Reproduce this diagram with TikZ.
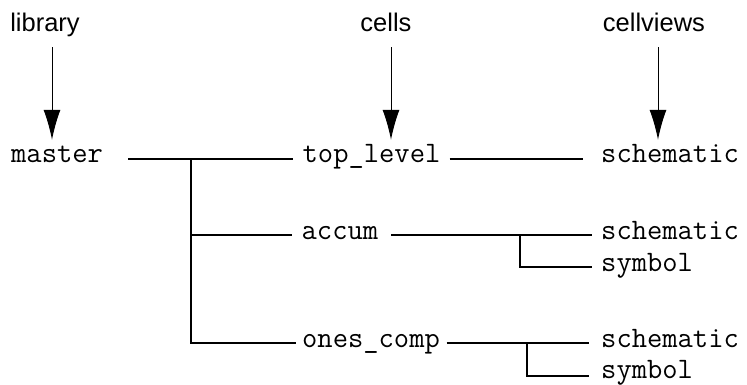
\documentclass[tikz,border=0pt]{standalone}
\usepackage{fontspec}
\setmainfont{Liberation Sans}
\usetikzlibrary{arrows.meta}
\begin{document}
\begin{tikzpicture}[x=1pt,y=-1pt,
  lbl/.style={font=\fontsize{25.5}{26}\selectfont, inner sep=0pt, text height=19pt, text depth=6pt, anchor=base},
  mono/.style={font=\ttfamily\fontsize{29.7}{30}\selectfont, inner sep=0pt, text height=14pt, text depth=6pt, anchor=west},
  wire/.style={line width=2.6pt, black},
  arr/.style={line width=1pt, black, -{Latex[length=30pt,width=17pt]}, shorten <=9pt, shorten >=9pt}]
\useasboundingbox (0,0) rectangle (747,385);
% column labels
\node[lbl] (library) at (45,32) {library};
\node[lbl] (cells) at (386,32) {cells};
\node[lbl] (cellviews) at (654,32) {cellviews};
% library
\node[mono] (master) at (11,159) {master};
% cells
\node[mono] (toplevel) at (302.5,159) {top\_level};
\node[mono] (accum) at (301.5,235) {accum};
\node[mono] (ones) at (302,343) {ones\_comp};
% cellviews
\node[mono] (sch1) at (601,159) {schematic};
\node[mono] (sch2) at (601,235) {schematic};
\node[mono] (sym2) at (601,267) {symbol};
\node[mono] (sch3) at (601,343) {schematic};
\node[mono, text height=12pt, text depth=8pt] (sym3) at (601,376) {symbol};
% junctions
\coordinate (jm) at (191,159);
\coordinate (ja) at (520,235);
\coordinate (jo) at (527,343);
% arrows
\draw[arr] ([xshift=7pt]library.south) -- ([xshift=7pt]library.south |- master.north);
\draw[arr] ([xshift=5pt]cells.south) -- ([xshift=5pt]cells.south |- toplevel.north);
\draw[arr] ([xshift=4pt]cellviews.south) -- ([xshift=4pt]cellviews.south |- sch1.north);
% library -> cells
\draw[wire] ([xshift=25pt]master.east) -- ([xshift=-9.5pt]toplevel.west);
\draw[wire] (jm) -- (jm |- ones.west) -- ([xshift=-6pt]ones.west);
\draw[wire] (jm |- accum.west) -- ([xshift=-9.5pt]accum.west);
% cells -> cellviews
\draw[wire] ([xshift=9pt]toplevel.east) -- ([xshift=-18pt]sch1.west);
\draw[wire] ([xshift=13pt]accum.east) -- ([xshift=-9pt]sch2.west);
\draw[wire] (ja) -- (ja |- sym2.west) -- ([xshift=-9pt]sym2.west);
\draw[wire] ([xshift=6.5pt]ones.east) -- ([xshift=-12pt]sch3.west);
\draw[wire] (jo) -- (jo |- sym3.west) -- ([xshift=-12pt]sym3.west);
\end{tikzpicture}
\end{document}
